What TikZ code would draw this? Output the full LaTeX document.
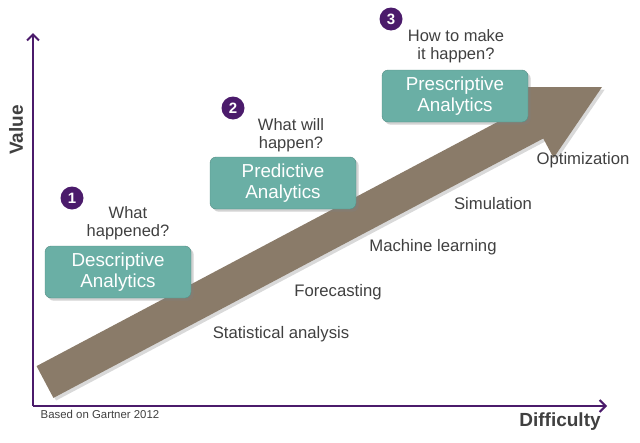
\documentclass[tikz,border=0pt]{standalone}
\usepackage{fontspec}
\setmainfont{Liberation Sans}
\usetikzlibrary{calc,shadows,arrows.meta}
\definecolor{boxteal}{HTML}{6AAFA5}
\definecolor{numpurple}{HTML}{4B1B6B}
\definecolor{arrowbrown}{HTML}{8A7B69}
\definecolor{txtgray}{HTML}{404040}
\tikzset{
  stage/.style={rounded corners=6pt, fill=boxteal, draw=boxteal!80!black, minimum width=146pt, minimum height=52pt,
    text=white, align=center, font=\fontsize{18.8}{21}\selectfont, drop shadow={opacity=.35}},
  stepnum/.style={circle, fill=numpurple, text=white, minimum size=23pt, inner sep=0pt, font=\bfseries\fontsize{15}{15}\selectfont},
  ask/.style={text=txtgray, align=center, font=\fontsize{16.5}{18}\selectfont},
  method/.style={text=txtgray, font=\fontsize{16.7}{18}\selectfont}
}
\begin{document}
\begin{tikzpicture}[x=1pt,y=-1pt]
\useasboundingbox (0,0) rectangle (640,442);

% axes
\draw[numpurple, line width=2pt, -{Straight Barb[length=6pt,width=12pt]}] (33,406) -- (33,33);
\draw[numpurple, line width=2pt, -{Straight Barb[length=6pt,width=12pt]}] (33,406) -- (607,406);
\node[rotate=90, font=\bfseries\fontsize{19}{19}\selectfont, text=txtgray] (value) at (16,130) {Value};
\node[font=\bfseries\fontsize{19}{19}\selectfont, text=txtgray] (difficulty) at (560,422) {Difficulty};
\node[text=txtgray, font=\fontsize{11.4}{12}\selectfont] (source) at (100,414) {Based on Gartner 2012};

% big arrow
\coordinate (tail) at (45,382);
\coordinate (tip) at (602,87);
\coordinate (neck) at ($(tip)!76pt!(tail)$);
\fill[arrowbrown, drop shadow={opacity=.3}]
  ($(tail)!18pt!90:(tip)$) -- ($(neck)!18pt!-90:(tail)$) -- ($(neck)!40pt!-90:(tail)$) -- (tip)
  -- ($(neck)!40pt!90:(tail)$) -- ($(neck)!18pt!90:(tail)$) -- ($(tail)!18pt!-90:(tip)$) -- cycle;

% stages
\node[stage] (desc) at (118,272) {Descriptive\\Analytics};
\node[stage] (pred) at (283,183) {Predictive\\Analytics};
\node[stage] (presc) at (455,96) {Prescriptive\\Analytics};

\node[ask] (q1) at (128,223) {What\\happened?};
\node[ask] (q2) at (291,135) {What will\\happen?};
\node[ask] (q3) at (456,46) {How to make\\it happen?};

\node[stepnum] (n1) at (72,198) {1};
\node[stepnum] (n2) at (233,108) {2};
\node[stepnum] (n3) at (391,19) {3};

% methods
\node[method] (stat) at (281,334) {Statistical analysis};
\node[method] (fore) at (338,292) {Forecasting};
\node[method] (ml) at (433,247) {Machine learning};
\node[method] (sim) at (493,204) {Simulation};
\node[method] (opt) at (583,160) {Optimization};
\end{tikzpicture}
\end{document}
